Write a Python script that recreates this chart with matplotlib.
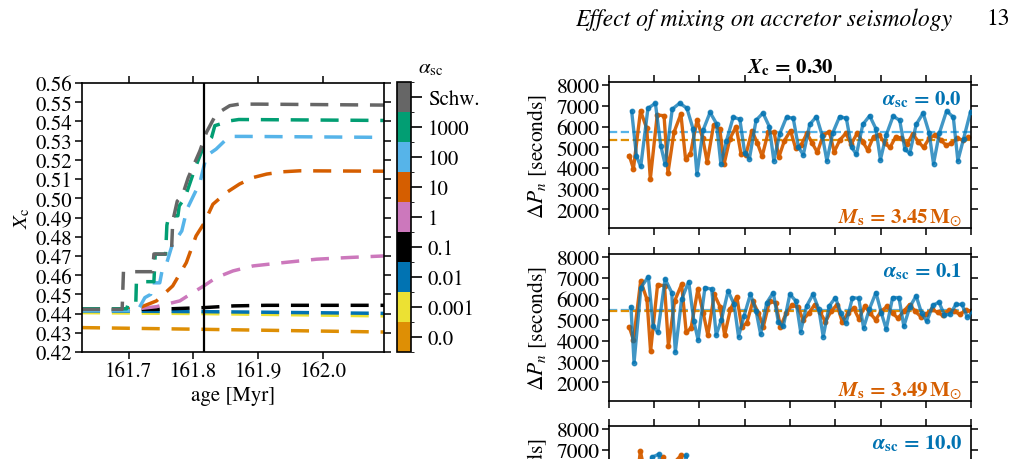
import numpy as np
import matplotlib
matplotlib.use('Agg')
import matplotlib.pyplot as plt
from matplotlib.colors import ListedColormap, BoundaryNorm
from matplotlib.cm import ScalarMappable
from matplotlib.ticker import MultipleLocator, FormatStrFormatter, NullFormatter

plt.rcParams['font.family'] = ['STIXGeneral', 'DejaVu Sans']
plt.rcParams['mathtext.fontset'] = 'stix'

# ---- left panel: central H fraction vs age for each alpha_sc ----
alpha_labels = ['0.0', '0.001', '0.01', '0.1', '1', '10', '100', '1000', 'Schw.']
alpha_colors = ['#de8f05', '#ece133', '#0173b2', 'black', '#cc78bc',
                '#d55e00', '#56b4e9', '#029e73', '#666666']

age_a0 = [161.628, 161.816, 162.094]
xc_a0 = [0.4327, 0.4318, 0.4304]
age_a0001 = [161.628, 161.816, 162.094]
xc_a0001 = [0.4405, 0.4400, 0.4388]
age_a001 = [161.628, 161.816, 162.094]
xc_a001 = [0.4414, 0.4410, 0.4401]
age_a01 = [161.628, 161.740, 161.816, 161.862, 161.913, 162.094]
xc_a01 = [0.4422, 0.4422, 0.4431, 0.4440, 0.4443, 0.4443]
age_a1 = [161.628, 161.700, 161.743, 161.779, 161.799, 161.816, 161.835,
          161.861, 161.892, 161.938, 161.990, 162.041, 162.094]
xc_a1 = [0.4422, 0.4420, 0.4436, 0.4466, 0.4509, 0.4544, 0.4587,
         0.4622, 0.4648, 0.4665, 0.4683, 0.4692, 0.4700]
age_a10 = [161.628, 161.700, 161.717, 161.743, 161.768, 161.789, 161.804,
           161.816, 161.830, 161.851, 161.871, 161.892, 161.913, 161.938,
           161.964, 162.094]
xc_a10 = [0.4422, 0.4422, 0.4431, 0.4466, 0.4544, 0.4665, 0.4804,
          0.4868, 0.4969, 0.5030, 0.5074, 0.5108, 0.5126, 0.5138,
          0.5143, 0.5141]
age_a100 = [161.628, 161.714, 161.725, 161.734, 161.736, 161.748, 161.752,
            161.759, 161.769, 161.776, 161.782, 161.790, 161.800, 161.810,
            161.820, 161.835, 161.851, 161.861, 161.880, 162.094]
xc_a100 = [0.4415, 0.4415, 0.4483, 0.4500, 0.4560, 0.4560, 0.4631,
           0.4666, 0.4778, 0.4800, 0.4830, 0.4943, 0.5013, 0.5082,
           0.5221, 0.5256, 0.5308, 0.5322, 0.5322, 0.5317]
age_a1000 = [161.628, 161.697, 161.699, 161.711, 161.712, 161.739, 161.741,
             161.757, 161.759, 161.762, 161.776, 161.778, 161.787, 161.802,
             161.815, 161.828, 161.833, 161.858, 161.870, 162.094]
xc_a1000 = [0.4425, 0.4425, 0.4448, 0.4448, 0.4566, 0.4566, 0.4709,
            0.4709, 0.4860, 0.4909, 0.4909, 0.4960, 0.5004, 0.5152,
            0.5265, 0.5317, 0.5378, 0.5404, 0.5410, 0.5405]
age_schw = [161.628, 161.690, 161.692, 161.737, 161.739, 161.766, 161.768,
            161.775, 161.783, 161.792, 161.810, 161.820, 161.835, 161.856,
            161.871, 161.900, 162.094]
xc_schw = [0.4422, 0.4422, 0.4618, 0.4618, 0.4710, 0.4710, 0.4880,
           0.4985, 0.5015, 0.5108, 0.5247, 0.5343, 0.5438, 0.5482,
           0.5490, 0.5490, 0.5485]
age_marker = 161.816

curves = [(age_a0, xc_a0), (age_a0001, xc_a0001), (age_a001, xc_a001),
          (age_a01, xc_a01), (age_a1, xc_a1), (age_a10, xc_a10),
          (age_a100, xc_a100), (age_a1000, xc_a1000), (age_schw, xc_schw)]

# ---- right panels: period spacings (seconds), first period (seconds) ----
p0_blue1, p0_orange1 = 21670, 19380
dp_blue1 = [6730, 4570, 4070, 6880, 7120, 5080, 4180, 6840, 7130, 6880, 5880,
            3700, 5820, 6680, 6140, 4180, 5300, 6450, 6350, 4700, 4450, 6300,
            6650, 6000, 4350, 5650, 6450, 6400, 5000, 4630, 6100, 6480, 5550,
            4350, 5700, 6480, 6400, 5000, 4650, 6100, 6520, 5900, 4400, 5600,
            6500, 6300, 4900, 4700, 6100, 6650, 5700, 4200, 5700, 6750, 6450,
            4350, 5400, 6720]
dp_orange1 = [4600, 3960, 6760, 5910, 3470, 6560, 6520, 3760, 5720, 6600, 4440,
              4680, 6310, 5430, 4280, 6070, 5880, 4200, 5400, 6000, 4680, 4630,
              5800, 5200, 4560, 5720, 5720, 4520, 5320, 5800, 4940, 5100, 5670,
              5180, 4750, 5590, 5750, 4780, 5350, 5670, 5150, 5670, 5270, 4860,
              5510, 5590, 5180, 4990, 5510, 5430, 5140, 5640, 5270, 4990, 5430,
              5590, 5350, 5100, 5180, 5430, 5350, 5480]
mean_blue1, mean_orange1 = 5720, 5350

p0_blue2, p0_orange2 = 21000, 19380
dp_blue2 = [5600, 2940, 6540, 7060, 4680, 4400, 6950, 6300, 3460, 5970, 6820,
            4920, 4030, 6540, 6460, 4270, 5000, 6380, 5730, 4190, 5160, 6220,
            5410, 4300, 5810, 6300, 4870, 4680, 6220, 5890, 4430, 5650, 6220,
            5500, 4190, 5650, 6060, 5300, 4840, 6060, 6020, 4600, 5500, 6300,
            5300, 4550, 6060, 6060, 4680, 5600, 6140, 5300, 4920, 5680, 5840,
            5240, 5250, 5730, 5730, 5130, 5350]
dp_orange2 = [4650, 4020, 6860, 5970, 3480, 6670, 6630, 3740, 5890, 6700, 4390,
              4590, 6450, 5300, 4260, 6210, 5600, 4260, 5500, 6100, 4670, 4830,
              5890, 5300, 4670, 5890, 5800, 4670, 5300, 5700, 5600, 4990, 5300,
              5720, 5350, 4900, 5400, 5720, 4900, 5300, 5560, 5040, 5640, 5300,
              5000, 5400, 5640, 5300, 5070, 5400, 5720, 5400, 5150, 5250, 5500,
              5350, 5200, 5450, 5400, 5250, 5450, 5400, 5300]
mean_blue2, mean_orange2 = 5450, 5420

p0_blue3, p0_orange3 = 21000, 19100
dp_blue3 = [5600, 3000, 5000, 5300, 6650, 6800, 4000, 4500, 6300, 4200, 6750,
            4400, 5200, 6200, 4600]
dp_orange3 = [4600, 3900, 6950, 5600, 3700, 5600, 6650, 4400, 6400, 6750, 4300,
              5200, 6000, 4500]

panel_alpha = ['0.0', '0.1', '10.0']
panel_mass = ['3.45', '3.49', None]

blue = '#0173b2'
orange = '#d55e00'


def periods(p0, dp):
    # period of mode n: P_n = P_{n-1} + dP_n, plotted in days
    return (p0 + np.concatenate([[0], np.cumsum(dp[1:])])) / 86400.0


fig = plt.figure(figsize=(10.17, 4.60), dpi=100)

# left panel
ax = fig.add_axes([0.0806, 0.2326, 0.2970, 0.5848])
for (a, x), c in zip(curves, alpha_colors):
    ax.plot(a, x, color=c, lw=2.5, ls=(0, (5.2, 3.4)))
ax.axvline(age_marker, color='black', lw=1.6, zorder=5)
ax.set_xlim(161.628, 162.094)
ax.set_ylim(0.42, 0.56)
ax.xaxis.set_major_locator(MultipleLocator(0.1))
ax.xaxis.set_major_formatter(FormatStrFormatter('%.1f'))
ax.yaxis.set_major_locator(MultipleLocator(0.01))
ax.yaxis.set_major_formatter(FormatStrFormatter('%.2f'))
ax.tick_params(direction='out', top=True, right=True, length=5, width=1.1,
               labelsize=15, pad=2)
for s in ax.spines.values():
    s.set_linewidth(1.2)
ax.set_xlabel('age [Myr]', fontsize=15, labelpad=3)
ax.set_ylabel(r'$X_{\rm c}$', fontsize=15, labelpad=2)

# colour bar
cax = fig.add_axes([0.3904, 0.2326, 0.01377, 0.587])
cmap = ListedColormap(alpha_colors)
norm = BoundaryNorm(np.arange(len(alpha_colors) + 1), len(alpha_colors))
cb = fig.colorbar(ScalarMappable(norm=norm, cmap=cmap), cax=cax,
                  ticks=np.arange(len(alpha_colors)) + 0.5)
cb.set_ticklabels(alpha_labels)
cb.outline.set_linewidth(1.2)
cax.tick_params(length=8, width=1.2, labelsize=15, pad=4)
fig.text(0.423, 0.852, r'$\alpha_{\rm sc}$', fontsize=15, ha='center', va='center')

# right panels
series = [(p0_blue1, dp_blue1, p0_orange1, dp_orange1, mean_blue1, mean_orange1),
          (p0_blue2, dp_blue2, p0_orange2, dp_orange2, mean_blue2, mean_orange2),
          (p0_blue3, dp_blue3, p0_orange3, dp_orange3, None, None)]
rects = [[0.5988, 0.5022, 0.3560, 0.3174],
         [0.5988, 0.1261, 0.3560, 0.3196],
         [0.5988, -0.2478, 0.3560, 0.3196]]

for i, (rect, (pb, db, po, do, mb, mo)) in enumerate(zip(rects, series)):
    axr = fig.add_axes(rect)
    if mb is not None:
        axr.axhline(mb, color='#56b4e9', lw=1.6, ls='--', zorder=1)
        axr.axhline(mo, color='#de8f05', lw=1.6, ls='--', zorder=1)
    axr.plot(periods(po, do), do, color=orange, lw=2.4, marker='o', ms=3.2,
             alpha=0.95, zorder=2)
    axr.plot(periods(pb, db), db, color=blue, lw=2.4, marker='o', ms=3.2,
             alpha=0.75, zorder=3)
    axr.set_xlim(0, 4)
    axr.set_ylim(1100, 8150)
    axr.xaxis.set_major_locator(MultipleLocator(0.5))
    axr.xaxis.set_major_formatter(NullFormatter())
    axr.set_yticks(np.arange(2000, 8001, 1000))
    axr.tick_params(direction='out', top=True, right=True, length=5, width=1.1,
                    labelsize=15.5, pad=2)
    for s in axr.spines.values():
        s.set_linewidth(1.2)
    axr.set_ylabel(r'$\Delta P_n$ [seconds]', fontsize=15.5, labelpad=5)
    axr.text(0.975, 0.885,
             r'$\boldsymbol{\alpha}_{\mathbf{sc}}\,\mathbf{=}\,\mathbf{%s}$' % panel_alpha[i],
             transform=axr.transAxes, ha='right', va='center', color=blue,
             fontsize=15)
    if panel_mass[i] is not None:
        axr.text(0.975, 0.075,
                 r'$\boldsymbol{M}_{\mathbf{s}}\,\mathbf{=}\,\mathbf{%s\,M}_{\odot}$' % panel_mass[i],
                 transform=axr.transAxes, ha='right', va='center', color=orange,
                 fontsize=15)
    if i == 0:
        axr.set_title(r'$\boldsymbol{X}_{\mathbf{c}}\,\mathbf{=}\,\mathbf{0.30}$',
                      fontsize=15, pad=7)

# page header
fig.text(0.5653, 0.957, 'Effect of mixing on accretor seismology',
         fontstyle='italic', fontsize=17, ha='left', va='center')
fig.text(0.993, 0.957, '13', fontsize=17, ha='right', va='center')

fig.savefig('out.png', dpi=100)
